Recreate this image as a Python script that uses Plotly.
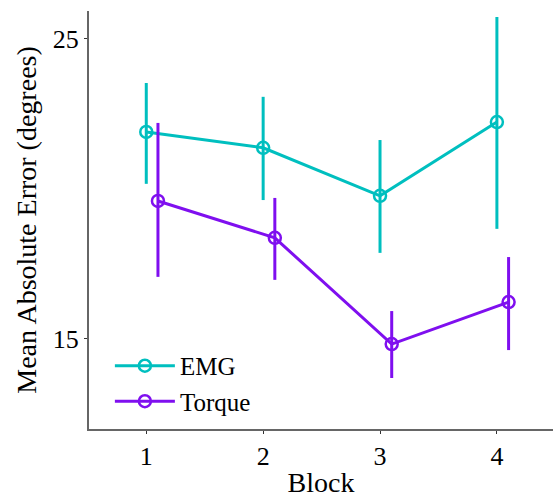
import plotly.graph_objects as go

blocks = [1, 2, 3, 4]
emg_mean = [21.9, 21.37, 19.77, 22.23]
emg_lo = [20.17, 19.63, 17.87, 18.67]
emg_hi = [23.53, 23.07, 21.63, 25.73]
torque_mean = [19.6, 18.37, 14.83, 16.23]
torque_lo = [17.07, 16.97, 13.7, 14.63]
torque_hi = [22.2, 19.7, 15.93, 17.73]
dodge = 0.1

emg_color = "#00BFBF"
torque_color = "#7F0FEF"

fig = go.Figure()

def add_series(name, xs, mean, lo, hi, color):
    fig.add_trace(go.Scatter(
        x=xs, y=mean, name=name, mode="lines+markers",
        line=dict(color=color, width=3),
        marker=dict(symbol="circle-open", size=12, color=color, line=dict(width=2.5, color=color)),
        error_y=dict(type="data", symmetric=False,
                     array=[h - m for h, m in zip(hi, mean)],
                     arrayminus=[m - l for m, l in zip(mean, lo)],
                     color=color, thickness=3, width=0),
    ))

add_series("EMG", blocks, emg_mean, emg_lo, emg_hi, emg_color)
add_series("Torque", [b + dodge for b in blocks], torque_mean, torque_lo, torque_hi, torque_color)

tick_font = dict(family="Liberation Serif", size=26, color="black")
title_font = dict(family="Liberation Serif", size=28, color="black")
fig.update_layout(
    width=553, height=498,
    margin=dict(l=89, r=0, t=11, b=69),
    plot_bgcolor="white", paper_bgcolor="white",
    font=dict(family="Liberation Serif", size=26, color="black"),
    showlegend=True,
    legend=dict(x=0.045, y=0.012, xanchor="left", yanchor="bottom",
                bgcolor="rgba(0,0,0,0)", font=dict(family="Liberation Serif", size=25),
                itemwidth=60, tracegroupgap=0),
    xaxis=dict(range=[0.51, 4.48], tickvals=blocks, ticktext=[str(b) for b in blocks],
               showgrid=False, zeroline=False, showline=True, linecolor="#666666", linewidth=2,
               ticks="outside", ticklen=3, tickcolor="#333333", tickfont=tick_font,
               automargin=False,
               title=dict(text="Block", font=title_font, standoff=3)),
    yaxis=dict(range=[12, 25.93], tickvals=[15, 25], ticktext=["15", "25"],
               showgrid=False, zeroline=False, showline=True, linecolor="#666666", linewidth=2,
               ticks="outside", ticklen=3, tickcolor="#333333", tickfont=tick_font,
               automargin=False,
               title=dict(text="Mean Absolute Error (degrees)", font=title_font, standoff=8)),
)

fig.write_html("out.html", config={"displayModeBar": False},
               post_script="document.body.style.margin='0';document.body.style.overflow='hidden';")
